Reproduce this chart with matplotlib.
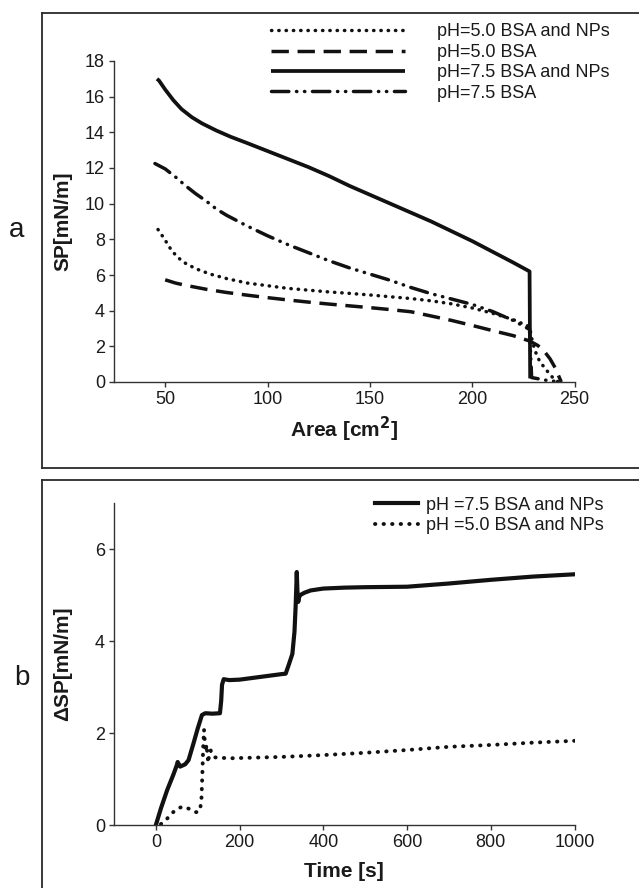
import matplotlib
matplotlib.use("Agg")
import matplotlib.pyplot as plt
from matplotlib.lines import Line2D

plt.rcParams['font.family'] = ['Liberation Sans', 'DejaVu Sans']

# ---------------- data: panel a ----------------
area_75_np = [46, 47, 50, 54, 58, 63, 68, 75, 82, 90, 100, 110, 120, 130, 140, 150,
              160, 170, 180, 190, 200, 210, 220, 228, 228.3]
sp_75_np = [17.0, 16.9, 16.4, 15.8, 15.3, 14.85, 14.5, 14.1, 13.75, 13.4, 12.95, 12.5,
            12.05, 11.55, 11.0, 10.5, 10.0, 9.5, 9.0, 8.45, 7.9, 7.3, 6.7, 6.2, 0.2]

area_75 = [45, 50, 55, 60, 65, 70, 75, 80, 90, 100, 110, 120, 130, 140, 150, 160, 170,
           180, 190, 200, 210, 220, 228, 229, 236, 243]
sp_75 = [12.25, 11.95, 11.5, 11.0, 10.55, 10.15, 9.7, 9.35, 8.75, 8.2, 7.7, 7.25, 6.8,
         6.4, 6.05, 5.7, 5.3, 4.95, 4.65, 4.35, 3.95, 3.45, 2.95, 0.25, 0.1, 0.0]

area_50_np = [46.5, 48, 50, 53, 56, 60, 65, 72, 80, 90, 100, 110, 120, 130, 140, 150,
              160, 170, 180, 190, 200, 210, 220, 228, 229.5, 231.5, 233, 236, 239.5, 242]
sp_50_np = [8.55, 8.3, 7.95, 7.4, 7.0, 6.65, 6.35, 6.05, 5.8, 5.55, 5.4, 5.25, 5.15,
            5.05, 4.97, 4.88, 4.78, 4.68, 4.55, 4.38, 4.15, 3.85, 3.5, 3.1, 2.2, 1.5,
            1.15, 0.7, 0.22, 0.0]

area_50 = [50, 55, 60, 70, 80, 90, 100, 110, 120, 130, 140, 150, 160, 170, 180, 190,
           200, 210, 220, 228, 232, 235, 238, 240.5, 243.5]
sp_50 = [5.73, 5.55, 5.42, 5.2, 5.02, 4.87, 4.73, 4.6, 4.48, 4.37, 4.27, 4.17, 4.06,
         3.94, 3.7, 3.45, 3.17, 2.88, 2.6, 2.3, 2.05, 1.75, 1.3, 0.8, 0.0]

labels_a = ["pH=5.0 BSA and NPs", "pH=5.0 BSA", "pH=7.5 BSA and NPs", "pH=7.5 BSA"]

# ---------------- data: panel b ----------------
time_75 = [0, 12, 27, 42, 50, 52, 58, 70, 78, 90, 100, 110, 118, 135, 153, 156, 158,
           162, 175, 200, 250, 300, 310, 318, 326, 331, 334, 336.5, 338, 340, 342, 345,
           355, 370, 400, 450, 500, 600, 700, 800, 900, 1000]
dsp_75 = [0, 0.36, 0.76, 1.1, 1.3, 1.37, 1.27, 1.32, 1.41, 1.78, 2.1, 2.39, 2.43, 2.42,
          2.43, 2.7, 3.05, 3.17, 3.15, 3.16, 3.22, 3.28, 3.29, 3.5, 3.72, 4.2, 4.8, 5.5,
          5.1, 4.85, 4.95, 5.0, 5.05, 5.1, 5.14, 5.16, 5.17, 5.18, 5.25, 5.33, 5.4, 5.45]

time_50 = [12, 25, 40, 55, 65, 80, 95, 101, 106, 109, 111, 113, 115, 117, 119, 121, 123,
           125, 128, 131, 134, 141, 175, 300, 400, 500, 600, 700, 800, 900, 1000]
dsp_50 = [0.02, 0.12, 0.27, 0.37, 0.4, 0.35, 0.28, 0.28, 0.35, 0.6, 1.1, 1.7, 2.07, 1.8,
          1.6, 1.75, 1.55, 1.35, 1.6, 1.62, 1.55, 1.47, 1.45, 1.48, 1.52, 1.57, 1.63,
          1.7, 1.74, 1.79, 1.83]

labels_b = ["pH =7.5 BSA and NPs", "pH =5.0 BSA and NPs"]

# ---------------- figure ----------------
W, H = 639, 888
fig = plt.figure(figsize=(W / 100, H / 100), dpi=100)
TXT = '#1a1a1a'
AX = '#333333'


def fx(px):
    return px / W


def fy(py):
    return 1 - py / H


# panel frames
frame_kw = dict(color='#2a2a2a', lw=1.3, transform=fig.transFigure)
fig.add_artist(Line2D([fx(42), fx(42)], [fy(13), fy(468)], **frame_kw))
fig.add_artist(Line2D([fx(42), 1.0], [fy(13), fy(13)], **frame_kw))
fig.add_artist(Line2D([fx(42), 1.0], [fy(468), fy(468)], **frame_kw))
fig.add_artist(Line2D([fx(42), fx(42)], [fy(480), 0.0], **frame_kw))
fig.add_artist(Line2D([fx(42), 1.0], [fy(480), fy(480)], **frame_kw))

ax_a = fig.add_axes([fx(114), fy(382), fx(574.6 - 114), (382 - 61) / H])
ax_b = fig.add_axes([fx(114), fy(825), fx(574.6 - 114), (825 - 503) / H])


def style_axes(ax):
    for s in ('top', 'right'):
        ax.spines[s].set_visible(False)
    for s in ('left', 'bottom'):
        ax.spines[s].set_color(AX)
        ax.spines[s].set_linewidth(1.0)
    ax.tick_params(direction='out', length=3.5, width=1.0, color=AX,
                   labelsize=13, labelcolor=TXT, pad=3)


LW = 2.5
dot_style = dict(color='#111111', lw=LW, dashes=(0.1, 2.0), dash_capstyle='round')
dash_style = dict(color='#111111', lw=LW, dashes=(5, 2.5), dash_capstyle='butt')
solid_style = dict(color='#111111', lw=LW + 0.2, solid_capstyle='butt')
dashdot_style = dict(color='#111111', lw=LW, dashes=(5, 2.2, 0.1, 2.2, 0.1, 2.2),
                     dash_capstyle='round')

LEG_FS = 13

# ---- panel a ----
style_axes(ax_a)
h1, = ax_a.plot(area_50_np, sp_50_np, **dot_style)
h2, = ax_a.plot(area_50, sp_50, **dash_style)
h3, = ax_a.plot(area_75_np, sp_75_np, **solid_style)
h4, = ax_a.plot(area_75, sp_75, **dashdot_style)
ax_a.set_xlim(25, 250)
ax_a.set_ylim(0, 18)
ax_a.set_xticks([50, 100, 150, 200, 250])
ax_a.set_yticks(range(0, 19, 2))
ax_a.set_ylabel("SP[mN/m]", fontsize=15, fontweight='bold', color=TXT, va='center')
ax_a.yaxis.set_label_coords((63 - 114) / 460.6, 0.5)
ax_a.set_xlabel("Area [cm$^\\mathbf{2}$]", fontsize=15, fontweight='bold', color=TXT,
                va='baseline')
ax_a.xaxis.set_label_coords(0.5, (382 - 437) / 321)
leg_a = ax_a.legend([h1, h2, h3, h4], labels_a, loc='upper left',
                    bbox_to_anchor=(fx(271), fy(23.5)), bbox_transform=fig.transFigure,
                    frameon=False, fontsize=LEG_FS, handlelength=7.42, handletextpad=1.77,
                    labelspacing=0.19, borderpad=0, borderaxespad=0)
for t in leg_a.get_texts():
    t.set_color(TXT)

# ---- panel b ----
style_axes(ax_b)
g1, = ax_b.plot(time_75, dsp_75, color='#111111', lw=3.0, solid_joinstyle='round')
g2, = ax_b.plot(time_50, dsp_50, color='#111111', lw=2.8, dashes=(0.1, 2.1),
                dash_capstyle='round')
ax_b.set_xlim(-100, 1000)
ax_b.set_ylim(0, 7)
ax_b.set_xticks(range(0, 1001, 200))
ax_b.set_yticks([0, 2, 4, 6])
ax_b.set_ylabel("\u0394SP[mN/m]", fontsize=15, fontweight='bold', color=TXT, va='center')
ax_b.yaxis.set_label_coords((63 - 114) / 460.6, 0.5)
ax_b.set_xlabel("Time [s]", fontsize=15, fontweight='bold', color=TXT, va='baseline')
ax_b.xaxis.set_label_coords(0.5, (825 - 877) / 322)
leg_b = ax_b.legend([g1, g2], labels_b, loc='upper left',
                    bbox_to_anchor=(fx(375), fy(496.5)), bbox_transform=fig.transFigure,
                    frameon=False, fontsize=LEG_FS, handlelength=2.38, handletextpad=0.44,
                    labelspacing=0.19, borderpad=0, borderaxespad=0)
for t in leg_b.get_texts():
    t.set_color(TXT)

# panel letters
fig.text(fx(17), fy(230), "a", fontsize=20, color=TXT, ha='center', va='center')
fig.text(fx(22), fy(678), "b", fontsize=20, color=TXT, ha='center', va='center')

fig.savefig("out.png", dpi=100)
